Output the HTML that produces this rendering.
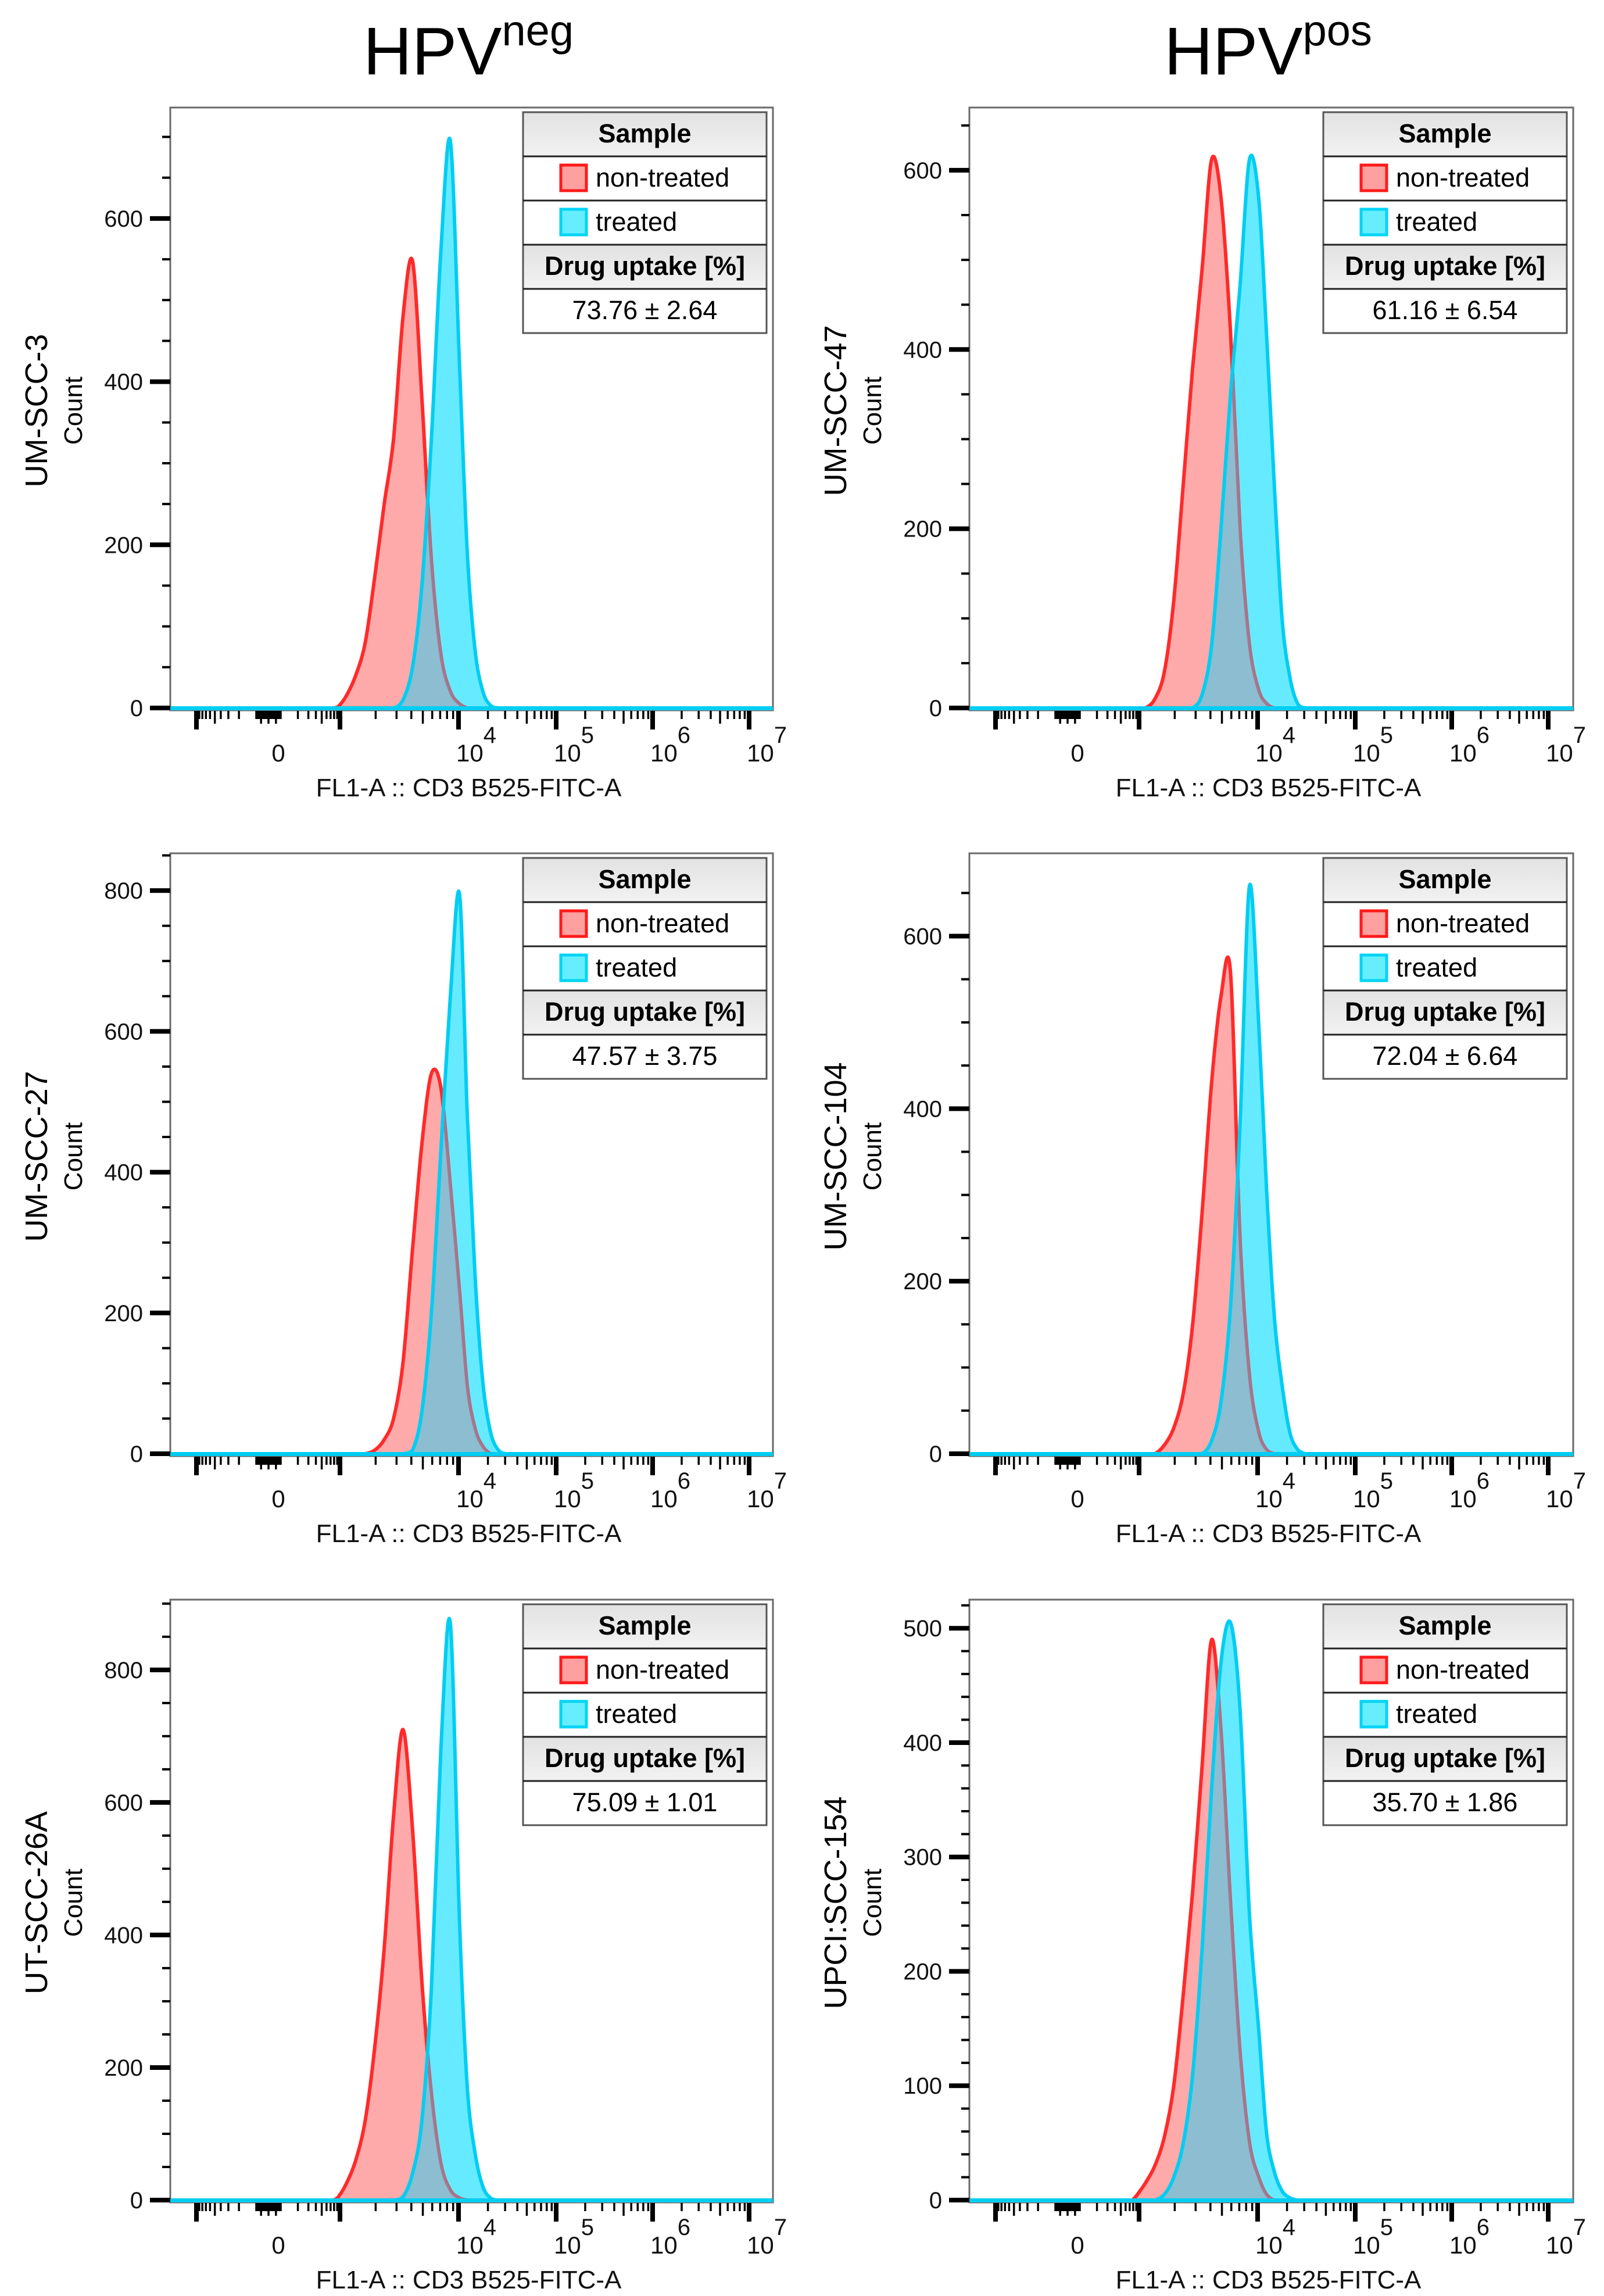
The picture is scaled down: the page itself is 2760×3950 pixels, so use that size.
<!DOCTYPE html>
<html><head><meta charset="utf-8"><style>
html,body{margin:0;padding:0;background:#fff;}
svg{display:block;font-family:"Liberation Sans",Arial,sans-serif;}
</style></head><body>
<svg id="fig" width="2760" height="3950" viewBox="0 0 2760 3950" xmlns="http://www.w3.org/2000/svg">
<defs>
<linearGradient id="hdr" x1="0" y1="0" x2="0" y2="1"><stop offset="0" stop-color="#e2e2e2"/><stop offset="1" stop-color="#f2f2f2"/></linearGradient>
</defs>
<text x="806" y="128" font-size="116" text-anchor="middle">HPV<tspan font-size="74" dy="-50">neg</tspan></text>
<text x="2182" y="128" font-size="116" text-anchor="middle">HPV<tspan font-size="74" dy="-50">pos</tspan></text>
</svg>
<script>
// log10 fluorescence intensity of each histogram bin
const binLog = [2.894,2.974,3.054,3.133,3.213,3.293,3.373,3.452,3.532,3.612,3.691,3.771,3.851,3.931,4.010,4.090,4.170,4.250,4.329,4.409,4.489];
// counts per bin: non-treated (red) and treated (blue)
const red1  = [0,2,15,40,80,160,250,330,480,548,380,180,65,20,5,0,0,0,0,0,0];
const blue1 = [0,0,0,0,0,0,0,0,10,50,150,330,560,695,420,190,70,20,3,0,0];
const red2  = [0,0,0,10,40,120,250,380,490,612,570,420,200,70,20,5,0,0,0,0,0];
const blue2 = [0,0,0,0,0,0,0,0,15,70,200,350,470,612,570,420,250,100,35,5,0];
const red3  = [0,0,0,0,0,5,20,50,130,290,440,540,520,380,230,95,35,10,0,0,0];
const blue3 = [0,0,0,0,0,0,0,0,0,5,60,200,430,650,795,480,250,100,30,5,0];
const red4  = [0,0,0,0,10,30,70,150,280,430,530,558,250,90,25,5,0,0,0,0,0];
const blue4 = [0,0,0,0,0,0,0,0,0,15,60,170,380,658,500,310,160,80,25,5,0];
const red5  = [0,5,25,60,120,230,380,580,710,560,330,160,55,15,3,0,0,0,0,0,0];
const blue5 = [0,0,0,0,0,0,0,0,5,40,120,320,680,870,420,170,70,20,3,0,0];
const red6  = [0,5,15,30,55,100,180,270,380,490,410,260,130,50,20,5,0,0,0,0,0];
const blue6 = [0,0,0,0,5,20,50,110,220,360,470,505,430,250,150,60,25,8,2,0,0];
const cellLines = ["UM-SCC-3","UM-SCC-47","UM-SCC-27","UM-SCC-104","UT-SCC-26A","UPCI:SCC-154"];
const uptakeLabels = ["73.76 ± 2.64","61.16 ± 6.54","47.57 ± 3.75","72.04 ± 6.64","75.09 ± 1.01","35.70 ± 1.86"];
const yMaxes = [736,670,853,696,906,525];
const yMajorSteps = [200,200,200,200,200,100];
const yMinorSteps = [50,50,50,50,50,20];
const xMajorTicks = [-1000,1000,10000,100000,1000000,10000000];
const xDecadeLabels = ["4","5","6","7"];
const reds=[red1,red2,red3,red4,red5,red6], blues=[blue1,blue2,blue3,blue4,blue5,blue6];

const NS="http://www.w3.org/2000/svg";
const svg=document.getElementById('fig');
function mk(tag,attrs,parent){const e=document.createElementNS(NS,tag);for(const k in attrs)e.setAttribute(k,attrs[k]);(parent||svg).appendChild(e);return e;}

const anc=[[-1000,338],[-100,441],[0,462],[100,483],[1000,585],[1e4,789],[1e5,957],[1e6,1123],[1e7,1289]];
const s=v=>Math.asinh(v/50);
function xAxisBase(v){
  const sv=s(v);
  let i=0; if(sv<=s(anc[0][0])) i=0; else if(sv>=s(anc[anc.length-1][0])) i=anc.length-2;
  else {while(i<anc.length-2 && sv>s(anc[i+1][0])) i++;}
  const a=anc[i],b=anc[i+1];const sa=s(a[0]),sb=s(b[0]);
  return a[1]+(sv-sa)/(sb-sa)*(b[1]-a[1]);
}
const colLeft=[293,1668], colRight=[1330,2707], rowTop=[185,1468,2752];
const H=1033;

for(let p=0;p<6;p++){
  const col=p%2,row=Math.floor(p/2);
  const L=colLeft[col],R=colRight[col],T=rowTop[row],Y0=T+H;
  const dx=L-293;
  const xA=v=>xAxisBase(v)+dx;
  const yA=c=>Y0-c*(H/yMaxes[p]);
  const g=mk('g',{});
  
  
  const cp=mk('clipPath',{id:'clip'+p},g);mk('rect',{x:L,y:T,width:R-L,height:H+4},cp);
  const bp=mk('clipPath',{id:'bclip'+p},g);
  function areaPath(arr){
    const pts=binLog.map((lg,i)=>[xA(Math.pow(10,lg)),yA(arr[i])]);
    let d='M'+L+','+Y0+' L'+pts[0][0].toFixed(1)+','+pts[0][1].toFixed(1);
    for(let i=0;i<pts.length-1;i++){
      const p0=pts[Math.max(0,i-1)],p1=pts[i],p2=pts[i+1],p3=pts[Math.min(pts.length-1,i+2)];
      const t=0.16;
      const c1x=p1[0]+(p2[0]-p0[0])*t, c1y=Math.min(Y0,p1[1]+(p2[1]-p0[1])*t);
      const c2x=p2[0]-(p3[0]-p1[0])*t, c2y=Math.min(Y0,p2[1]-(p3[1]-p1[1])*t);
      d+=' C'+c1x.toFixed(1)+','+c1y.toFixed(1)+' '+c2x.toFixed(1)+','+c2y.toFixed(1)+' '+p2[0].toFixed(1)+','+p2[1].toFixed(1);
    }
    d+=' L'+R+','+Y0+' Z';return d;
  }
  const rd=areaPath(reds[p]),bd=areaPath(blues[p]);
  mk('path',{d:bd},bp);
  const pg=mk('g',{'clip-path':'url(#clip'+p+')'},g);
  const rf=mk('path',{d:rd,fill:'#ffaaaa',stroke:'none'},pg);
  
  
  const bf=mk('path',{d:bd,fill:'#66eaff',stroke:'none'},pg);
  
  
  const rl=mk('path',{d:rd,fill:'none',stroke:'#ff2a2a','stroke-width':6,'stroke-linejoin':'round'},pg);
  
  
  mk('path',{d:rd,fill:'#8fb8cc','fill-opacity':0.92,stroke:'#a07890','stroke-width':5,'clip-path':'url(#bclip'+p+')'},pg);
  const bl=mk('path',{d:bd,fill:'none',stroke:'#00cdf2','stroke-width':6,'stroke-linejoin':'round'},pg);
  
  
  const fr=mk('rect',{x:L,y:T,width:R-L,height:H+4,fill:'none',stroke:'#6a6a6a','stroke-width':3},g);
  
  
  mk('line',{x1:L,y1:Y0+1,x2:R,y2:Y0+1,stroke:'#00cdf2','stroke-width':6},g);
  for(let v=0;v<=yMaxes[p];v+=yMinorSteps[p]){
    const maj=(v%yMajorSteps[p]===0);const y=yA(v);
    mk('line',{x1:L-(maj?35:14),y1:y,x2:L,y2:y,stroke:'#000','stroke-width':maj?8:4},g);
    if(maj){const t=mk('text',{x:L-47,y:y+14,'font-size':40,'text-anchor':'end',fill:'#111'},g);t.textContent=v;
      
      }
  }
  const tv=[0];
  for(let k=1;k<=6;k++){for(let m=1;m<=9;m++){const v=m*Math.pow(10,k);if(v<=1e7){tv.push(v);if(v<=1000)tv.push(-v);}}}
  tv.push(1e7);
  tv.forEach(v=>{const x=xA(v);if(x<L+5||x>R-5)return;
    const maj=xMajorTicks.indexOf(v)>=0;const mid=(Math.abs(v)===5*Math.pow(10,Math.round(Math.log10(Math.abs(v)/5))));
    const len=maj?32:(mid?22:14);
    mk('line',{x1:x,y1:Y0+5,x2:x,y2:Y0+5+len,stroke:'#000','stroke-width':maj?8:3.5},g);});
  const z=mk('text',{x:xA(0)+17,y:Y0+92,'font-size':42,'text-anchor':'middle',fill:'#111'},g);z.textContent='0';
  
  
  xDecadeLabels.forEach((lab,i)=>{const x=xA(Math.pow(10,4+i));
    const t=mk('text',{x:x-4,y:Y0+92,'font-size':42,fill:'#111'},g);t.textContent='10';
    
    
    const sp=mk('tspan',{'font-size':40,dy:-32},t);sp.textContent=lab;});
  const xt=mk('text',{x:(L+R)/2-5,y:Y0+152,'font-size':44,'text-anchor':'middle',fill:'#111'},g);xt.textContent='FL1-A :: CD3 B525-FITC-A';
  
  
  const cy=T+H/2+5;
  const yt=mk('text',{x:0,y:0,'font-size':54,'text-anchor':'middle',transform:'translate('+(L-212)+','+cy+') rotate(-90)',fill:'#000'},g);yt.textContent=cellLines[p];
  
  
  const ct=mk('text',{x:0,y:0,'font-size':44,'text-anchor':'middle',transform:'translate('+(L-152)+','+cy+') rotate(-90)',fill:'#000'},g);ct.textContent='Count';
  
  
  const lx=R-430,lw=419,ly=T+8,rh=76;
  const lg=mk('g',{},g);
  
  
  mk('rect',{x:lx,y:ly,width:lw,height:rh,fill:'url(#hdr)'},lg);
  mk('rect',{x:lx,y:ly+rh*3,width:lw,height:rh,fill:'url(#hdr)'},lg);
  mk('rect',{x:lx,y:ly,width:lw,height:rh*5,fill:'none',stroke:'#555','stroke-width':3},lg);
  for(let r=1;r<5;r++)mk('line',{x1:lx,y1:ly+rh*r,x2:lx+lw,y2:ly+rh*r,stroke:'#222','stroke-width':3},lg);
  const t1=mk('text',{x:lx+lw/2,y:ly+52,'font-size':45,'font-weight':'bold','text-anchor':'middle'},lg);t1.textContent='Sample';
  const sw1=mk('rect',{x:lx+65,y:ly+rh+15,width:44,height:44,fill:'#ffa0a0',stroke:'#ff1a1a','stroke-width':5},lg);
  
  
  const t2=mk('text',{x:lx+125,y:ly+rh+52,'font-size':45},lg);t2.textContent='non-treated';
  const sw2=mk('rect',{x:lx+65,y:ly+rh*2+15,width:44,height:44,fill:'#66eeff',stroke:'#00d4f5','stroke-width':5},lg);
  
  
  const t3=mk('text',{x:lx+125,y:ly+rh*2+52,'font-size':45},lg);t3.textContent='treated';
  const t4=mk('text',{x:lx+lw/2,y:ly+rh*3+52,'font-size':45,'font-weight':'bold','text-anchor':'middle'},lg);t4.textContent='Drug uptake [%]';
  const t5=mk('text',{x:lx+lw/2,y:ly+rh*4+52,'font-size':45,'text-anchor':'middle'},lg);t5.textContent=uptakeLabels[p];
  
  
}
</script>
</body></html>
